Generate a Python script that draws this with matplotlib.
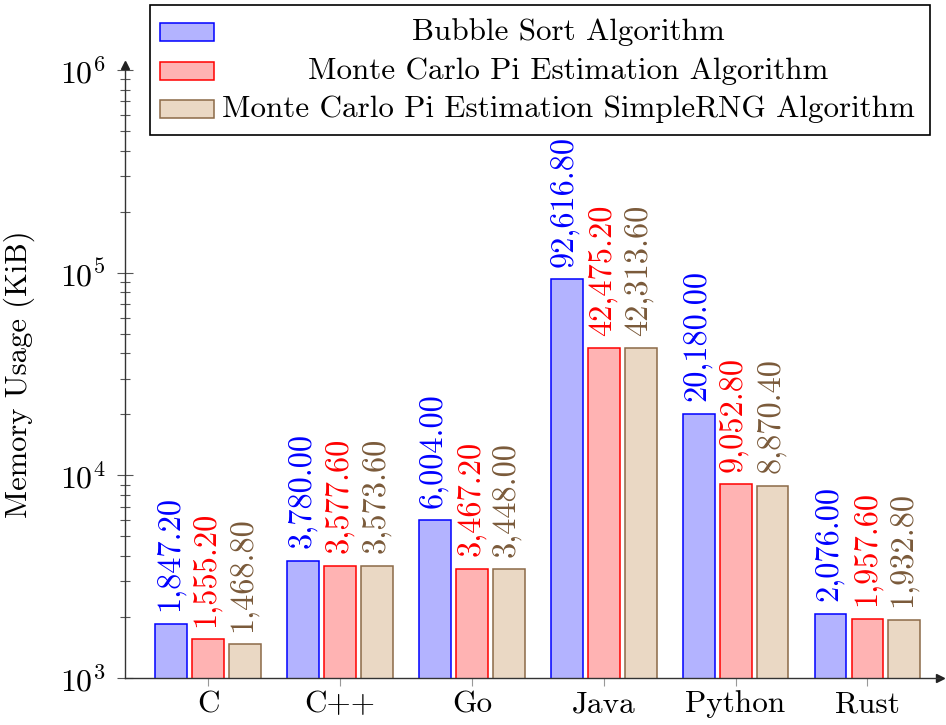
import matplotlib
matplotlib.use("Agg")
import matplotlib.pyplot as plt
import matplotlib.patches as mpatches
import numpy as np

plt.rcParams['font.family'] = 'serif'
plt.rcParams['font.serif'] = ['cmr10']
plt.rcParams['mathtext.fontset'] = 'cm'
plt.rcParams['axes.unicode_minus'] = False
plt.rcParams['axes.formatter.use_mathtext'] = True

# data
languages = ['C', 'C++', 'Go', 'Java', 'Python', 'Rust']
series_names = ['Bubble Sort Algorithm',
                'Monte Carlo Pi Estimation Algorithm',
                'Monte Carlo Pi Estimation SimpleRNG Algorithm']
bubble_sort = [1847.2, 3780.0, 6004.0, 92616.8, 20180.0, 2076.0]
monte_carlo = [1555.2, 3577.6, 3467.2, 42475.2, 9052.8, 1957.6]
monte_carlo_rng = [1468.8, 3573.6, 3448.0, 42313.6, 8870.4, 1932.8]

fills = ['#B3B3FF', '#FFB3B3', '#EAD8C4']
edges = ['#0000FF', '#FF0000', '#8C6A48']
label_colors = ['#0000FF', '#FF0000', '#7A5A3A']

fig = plt.figure(figsize=(9.46, 7.25), dpi=100)
ax = fig.add_axes([125/946, 1 - 678/725, (940 - 125)/946, (678 - 70)/725])

x = np.arange(len(languages))
width = 0.242
offset = 0.28
all_series = [bubble_sort, monte_carlo, monte_carlo_rng]

for i, vals in enumerate(all_series):
    pos = x + (i - 1) * offset
    ax.bar(pos, vals, width, color=fills[i], edgecolor=edges[i], linewidth=1.1, zorder=2)
    for p, v in zip(pos, vals):
        ax.annotate(f"{v:,.2f}", (p, v), xytext=(-1, 9), textcoords='offset points',
                    rotation=90, ha='center', va='bottom', fontsize=23.3,
                    color=label_colors[i])

ax.set_yscale('log')
ax.set_ylim(1e3, 1e6)
ax.set_xlim(-0.63, 5.55)
ax.set_xticks(x)
ax.set_xticklabels(languages, fontsize=22.5)
ax.set_ylabel('Memory Usage (KiB)', fontsize=22, labelpad=18)
ax.tick_params(axis='y', which='major', direction='inout', length=12, width=0.8,
               color='#555555', labelsize=23, pad=8)
ax.tick_params(axis='y', which='minor', direction='inout', length=7, width=0.8,
               color='#555555')
ax.tick_params(axis='x', direction='out', length=6, width=0.8, color='#999999', pad=3)

for s in ['top', 'right']:
    ax.spines[s].set_visible(False)
for s in ['left', 'bottom']:
    ax.spines[s].set_color('#333333')
    ax.spines[s].set_linewidth(1.0)
ax.plot(0, 1.008, marker='^', color='#222222', markersize=6, transform=ax.transAxes, clip_on=False)
ax.plot(1.0, 0, marker='>', color='#222222', markersize=6, transform=ax.transAxes, clip_on=False)

# legend drawn by hand so the texts can be centered like pgfplots does
box = mpatches.Rectangle((150/946, 1 - 135/725), (930 - 150)/946, 130/725,
                         transform=fig.transFigure, facecolor='white',
                         edgecolor='black', linewidth=1.2, zorder=5)
fig.patches.append(box)
rows_y = [32, 71, 109]
for i, name in enumerate(series_names):
    yc = 1 - rows_y[i]/725
    r = mpatches.Rectangle((160/946, yc - 9/725), 54/946, 18/725,
                           transform=fig.transFigure, facecolor=fills[i],
                           edgecolor=edges[i], linewidth=1.1, zorder=6)
    fig.patches.append(r)
    fig.text(568/946, yc, name, ha='center', va='center', fontsize=22.4, zorder=7)

fig.savefig('out.png', dpi=100)
